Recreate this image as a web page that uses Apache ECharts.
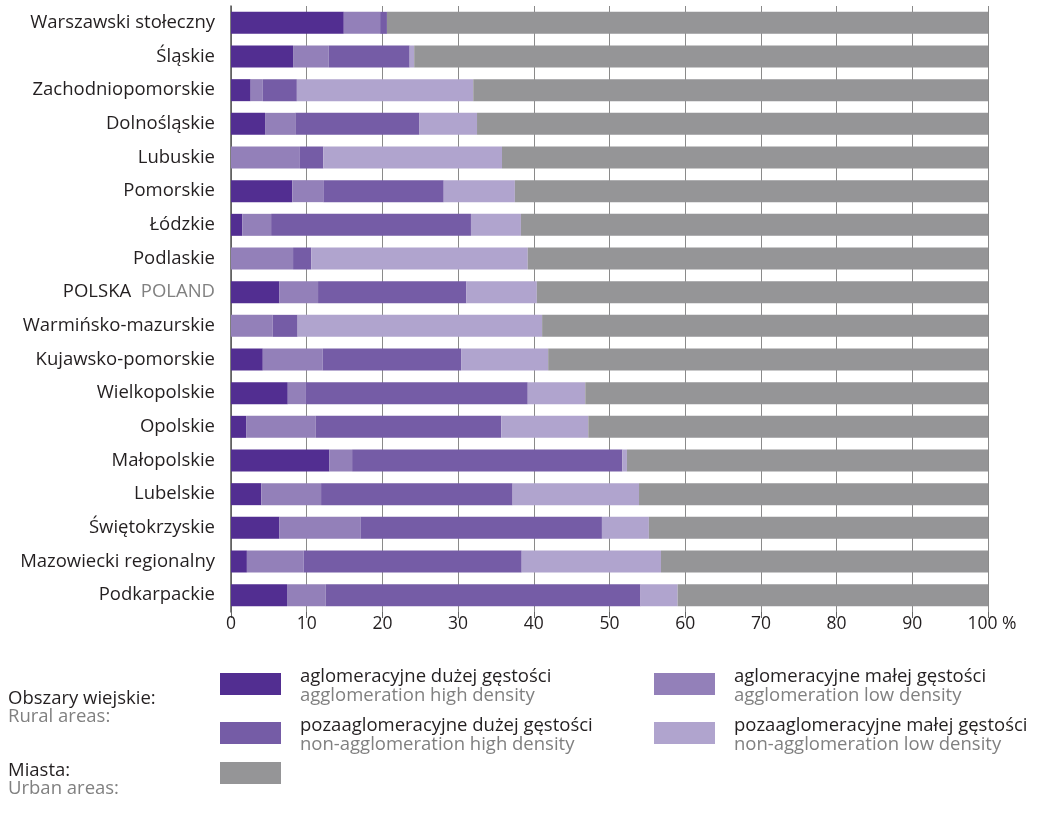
<!DOCTYPE html>
<html>
<head>
<meta charset="utf-8">
<script src="https://cdn.jsdelivr.net/npm/echarts@6/dist/echarts.min.js"></script>
<style>html,body{margin:0;padding:0;background:#fff}#c{width:1046px;height:822px}</style>
</head>
<body>
<div id="c"></div>
<script>
const categories = ['Warszawski stołeczny','Śląskie','Zachodniopomorskie','Dolnośląskie','Lubuskie','Pomorskie','Łódzkie','Podlaskie','POLSKA|POLAND','Warmińsko-mazurskie','Kujawsko-pomorskie','Wielkopolskie','Opolskie','Małopolskie','Lubelskie','Świętokrzyskie','Mazowiecki regionalny','Podkarpackie'];
const aglHigh    = [14.9, 8.2, 2.6, 4.5, 0,   8.1, 1.5, 0,   6.4, 0,   4.2, 7.5, 2.0, 13.0, 4.0, 6.4, 2.1, 7.4];
const aglLow     = [4.8, 4.7, 1.6, 4.0, 9.1, 4.1, 3.8, 8.2, 5.1, 5.5, 7.9, 2.4, 9.2, 3.0, 7.9, 10.7, 7.5, 5.1];
const nonAglHigh = [0.9, 10.7, 4.5, 16.4, 3.1, 15.9, 26.4, 2.4, 19.6, 3.3, 18.3, 29.3, 24.5, 35.7, 25.3, 31.9, 28.8, 41.6];
const nonAglLow  = [0, 0.6, 23.3, 7.6, 23.6, 9.4, 6.6, 28.6, 9.3, 32.3, 11.5, 7.6, 11.5, 0.6, 16.7, 6.2, 18.4, 4.9];
const urban      = [79.4, 75.8, 68.0, 67.5, 64.2, 62.5, 61.7, 60.8, 59.6, 58.9, 58.1, 53.2, 52.8, 47.7, 46.1, 44.8, 43.2, 41.0];
const xTicks = [0,10,20,30,40,50,60,70,80,90,100];

const colors = ['#522e91','#9380b9','#755ca6','#b0a4ce','#959597'];
const names = ['aglomeracyjne dużej gęstości','aglomeracyjne małej gęstości','pozaaglomeracyjne dużej gęstości','pozaaglomeracyjne małej gęstości','Miasta'];
const datas = [aglHigh, aglLow, nonAglHigh, nonAglLow, urban];
const FONT = "'Open Sans', sans-serif";

const chart = echarts.init(document.getElementById('c'));
const series = datas.map((d,i)=>({
  name: names[i], type:'bar', stack:'s', data:d, barWidth:22,
  itemStyle:{color:colors[i]}, silent:true
}));

function txt(x,y,t,c){
  return {type:'text', x:x, y:y, style:{text:t, font:'18.5px '+FONT, fill:c, textVerticalAlign:'middle', verticalAlign:'middle'}};
}
function legendItem(x,y,color,pl,en){
  return [
    {type:'rect', shape:{x:x,y:y,width:61,height:22}, style:{fill:color}},
    txt(x+80, y+4, pl, '#231f20'),
    txt(x+80, y+23, en, '#808080')
  ];
}

const graphics = [].concat(
  legendItem(220,673,colors[0],'aglomeracyjne dużej gęstości','agglomeration high density'),
  legendItem(654,673,colors[1],'aglomeracyjne małej gęstości','agglomeration low density'),
  legendItem(220,722,colors[2],'pozaaglomeracyjne dużej gęstości','non-agglomeration high density'),
  legendItem(654,722,colors[3],'pozaaglomeracyjne małej gęstości','non-agglomeration low density'),
  [
    {type:'rect', shape:{x:220,y:762,width:61,height:22}, style:{fill:colors[4]}},
    txt(8, 699, 'Obszary wiejskie:', '#231f20'),
    txt(8, 717, 'Rural areas:', '#808080'),
    txt(8, 771, 'Miasta:', '#231f20'),
    txt(8, 789, 'Urban areas:', '#808080')
  ]
);

chart.setOption({
  animation:false,
  textStyle:{fontFamily:FONT},
  grid:{left:231, right:58, top:6, bottom:210},
  xAxis:{
    type:'value', min:0, max:100, interval:10,
    axisLine:{show:false},
    axisTick:{show:true, length:6, lineStyle:{color:'#666'}},
    splitLine:{show:true, lineStyle:{color:'#8a8a8a', width:1}},
    axisLabel:{fontSize:17.5, color:'#231f20', margin:3, fontFamily:FONT,
      formatter:v=> v===100 ? '{p|100 %}' : String(v),
      rich:{p:{fontSize:17.5, color:'#231f20', fontFamily:FONT, padding:[0,0,0,8]}}
    }
  },
  yAxis:{
    type:'category', data:categories, inverse:true,
    axisLine:{show:true, lineStyle:{color:'#555', width:1.5}},
    axisTick:{show:false},
    axisLabel:{fontSize:18.5, color:'#231f20', margin:16, fontFamily:FONT,
      formatter:v=>{ if(v.indexOf('|')>=0){const p=v.split('|'); return p[0]+'  {g|'+p[1]+'}';} return v; },
      rich:{g:{color:'#808080', fontSize:18.5, fontFamily:FONT}}
    }
  },
  series:series,
  graphic:graphics
});
</script>
</body>
</html>
